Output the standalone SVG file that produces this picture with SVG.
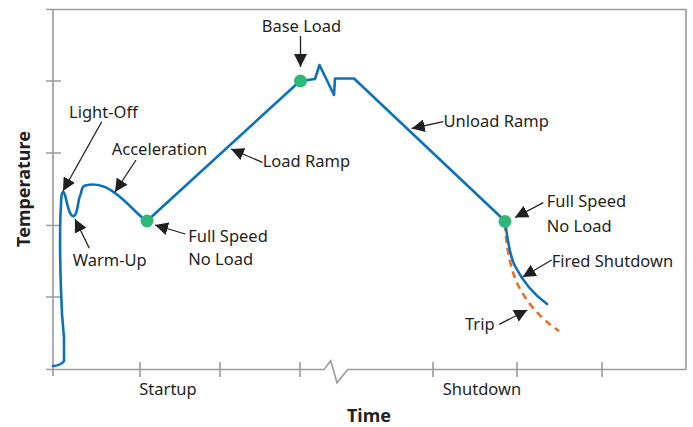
<svg xmlns="http://www.w3.org/2000/svg" width="693" height="427" viewBox="0 0 693 427">
<style>
.axis{fill:none;stroke:#9a9a9a;stroke-width:1.6}
.curve{fill:none;stroke:#0b72ba;stroke-width:2.6;stroke-linejoin:round;stroke-linecap:round}
.trip{fill:none;stroke:#f26a2a;stroke-width:2.6;stroke-dasharray:7,5}
.lbl{font-family:"Noto Sans","Open Sans",sans-serif;font-size:16.5px;fill:#231f20}
.title{font-family:"Noto Sans","Open Sans",sans-serif;font-size:18px;font-weight:bold;fill:#231f20}
.arr{fill:none;stroke:#231f20;stroke-width:1.3;marker-end:url(#ah)}
.dot{fill:#2db87a}
</style>
<defs>
<marker id="ah" markerUnits="userSpaceOnUse" markerWidth="14" markerHeight="13" refX="13" refY="6.5" orient="auto">
<path d="M0,0 L13,6.5 L0,13 Z" fill="#231f20"/>
</marker>
</defs>
<g id="axes">
<path class="axis" d="M46,9.5 H686 V369.5 M53,9.5 V376 M46,369.5 H324 L330.7,360.7 L337,382.7 L347.7,369.5 H686"/>
<path class="axis" d="M46,81 H61 M46,153 H61 M46,225.5 H61 M46,297 H61"/>
<path class="axis" d="M140,362 V377 M220,362 V377 M300,362 V377 M433,362 V377 M517,362 V377 M602,362 V377"/>
<text class="lbl" x="168" y="395" text-anchor="middle">Startup</text>
<text class="lbl" x="482" y="395" text-anchor="middle">Shutdown</text>
<text class="title" x="369" y="422" text-anchor="middle">Time</text>
<text class="title" transform="translate(29.5,189) rotate(-90)" text-anchor="middle">Temperature</text>
</g>
<g id="curves">
<path class="curve" d="M53,366 C57,366 62,364 64,361 L64,338 L62,314 L61,290 C60,260 60,220 61,205 C61,197 62,192 63,192 C65,192 66,200 68,207 C70,215 73,218 75,215 C78,211 78,200 80,196 C82,192 81,188 84,186 C88,184 96,184 102,186 C112,189 124,200 132,208 C138,214 143,219 147,221 L300,81 L315,79 L319.5,65 L334,95 L335,78.5 L354,78.5 L505,221"/>
<path class="trip" d="M505,224 C506,245 510,268 518,285 C527,303 540,318 559,331"/>
<path class="curve" d="M505,221 C507,235 509,255 515,266 C522,280 532,293 547,304"/>
</g>
<g id="dot-fsnl-start"><circle class="dot" cx="147" cy="221" r="6.5"/></g>
<g id="dot-base-load"><circle class="dot" cx="300.5" cy="81" r="6.5"/></g>
<g id="dot-fsnl-end"><circle class="dot" cx="505" cy="221.5" r="6.5"/></g>
<g id="connectors">
<path class="arr" d="M101.7,121.7 L63,191"/>
<path class="arr" d="M136,160 L115,192"/>
<path class="arr" d="M89.3,248.3 L75,219"/>
<path class="arr" d="M185.3,234 L155,225"/>
<path class="arr" d="M262.3,162.3 L231,149"/>
<path class="arr" d="M300.5,36 L300.5,67"/>
<path class="arr" d="M443.3,121.7 L411.7,128.5"/>
<path class="arr" d="M543.3,202.7 L515,217.5"/>
<path class="arr" d="M551.7,260 L522.7,277"/>
<path class="arr" d="M499.3,324.3 L527.3,310"/>
</g>
<g id="labels">
<text class="lbl" x="69" y="118">Light-Off</text>
<text class="lbl" x="111.7" y="155.3">Acceleration</text>
<text class="lbl" x="72.7" y="266">Warm-Up</text>
<text class="lbl" x="188.3" y="241.7">Full Speed</text>
<text class="lbl" x="188.3" y="265">No Load</text>
<text class="lbl" x="262.7" y="166.7">Load Ramp</text>
<text class="lbl" x="261.7" y="31.7">Base Load</text>
<text class="lbl" x="443.5" y="127">Unload Ramp</text>
<text class="lbl" x="546.7" y="207.3">Full Speed</text>
<text class="lbl" x="546.7" y="231.7">No Load</text>
<text class="lbl" x="551.7" y="266.7">Fired Shutdown</text>
<text class="lbl" x="465" y="330">Trip</text>
</g>
</svg>
